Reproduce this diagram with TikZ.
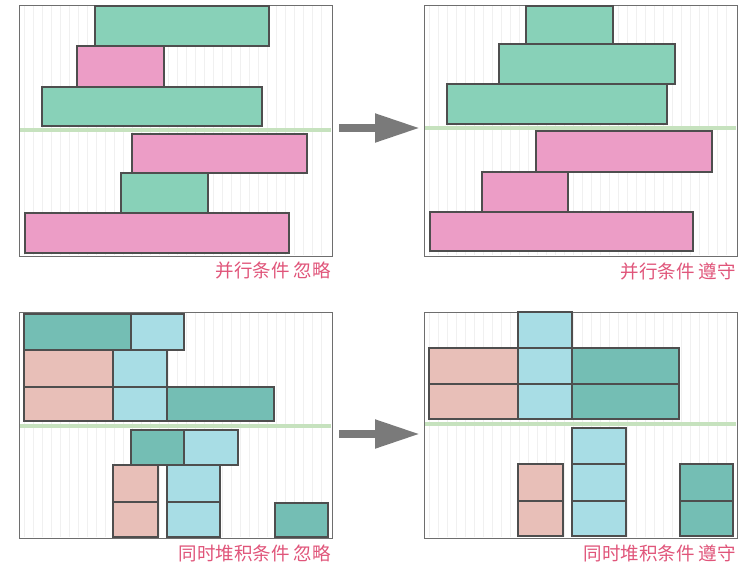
\documentclass[tikz,border=0pt]{standalone}
\usepackage{fontspec}
\setmainfont{Noto Sans CJK SC}
\usetikzlibrary{arrows.meta}
\definecolor{mint}{HTML}{88D1B8}
\definecolor{rosa}{HTML}{EC9DC6}
\definecolor{tealc}{HTML}{74BEB4}
\definecolor{lblue}{HTML}{A8DDE5}
\definecolor{salmon}{HTML}{E8BFB8}
\definecolor{edgec}{HTML}{4E4E4E}
\definecolor{framec}{HTML}{6E6E6E}
\definecolor{divc}{HTML}{C6E2BE}
\definecolor{labc}{HTML}{E0557A}
\definecolor{arrc}{HTML}{7A7A7A}
\newcommand\blk[6]{\node[#1, minimum width={#4-#2}, minimum height={#5-#3}] (#6) at ({(#2+#4)/2},{(#3+#5)/2}) {};}
\begin{document}
\begin{tikzpicture}[x=1pt,y=-1pt,
  box/.style={draw=edgec, line width=1.1pt, inner sep=0pt, outer sep=0pt},
  gbox/.style={box, fill=mint},
  pbox/.style={box, fill=rosa},
  tbox/.style={box, fill=tealc},
  bbox/.style={box, fill=lblue},
  sbox/.style={box, fill=salmon},
  frame/.style={draw=framec, line width=1pt, inner sep=0pt, outer sep=0pt},
  stripe/.style={draw=black!6, line width=0.7pt},
  divider/.style={draw=divc, line width=4pt},
  bigarrow/.style={draw=arrc, line width=8pt, -{Triangle[length=45pt,width=27pt]}},
  lab/.style={text=labc, font=\fontsize{18.5}{18.5}\selectfont, inner sep=0pt, anchor=east}]
\useasboundingbox (0,0) rectangle (740,566);
% stripes
\foreach \ox/\oy in {19/5,424/5}{
  \foreach \i in {1,...,34}{
    \draw[stripe] ({\ox+9*\i-4},{\oy+1}) -- ({\ox+9*\i-4},{\oy+250});
  }
}
\foreach \ox/\oy in {19/312,424/312}{
  \foreach \i in {1,...,34}{
    \draw[stripe] ({\ox+9*\i-4},{\oy+1}) -- ({\ox+9*\i-4},{\oy+225});
  }
}
% frames
\blk{frame}{19}{5}{332}{256}{p1}
\blk{frame}{424}{5}{737}{256}{p2}
\blk{frame}{19}{312}{332}{538}{p3}
\blk{frame}{424}{312}{737}{538}{p4}
% dividers
\draw[divider] (20,130) -- (331,130);
\draw[divider] (425,128) -- (736,128);
\draw[divider] (20,426) -- (331,426);
\draw[divider] (425,424) -- (736,424);
% panel 1
\blk{gbox}{95}{6}{269}{46}{a1}
\blk{pbox}{77}{46}{164}{87}{a2}
\blk{gbox}{42}{87}{262}{126}{a3}
\blk{pbox}{132}{134}{307}{173}{a4}
\blk{gbox}{121}{173}{208}{213}{a5}
\blk{pbox}{25}{213}{289}{253}{a6}
% panel 2
\blk{gbox}{526}{6}{613}{44}{b1}
\blk{gbox}{499}{44}{675}{84}{b2}
\blk{gbox}{447}{84}{667}{124}{b3}
\blk{pbox}{536}{131}{712}{172}{b4}
\blk{pbox}{482}{172}{568}{212}{b5}
\blk{pbox}{430}{212}{693}{251}{b6}
% panel 3
\blk{tbox}{24}{314}{131}{350}{c1}
\blk{bbox}{131}{314}{184}{350}{c2}
\blk{sbox}{24}{350}{113}{387}{c3}
\blk{bbox}{113}{350}{167}{387}{c4}
\blk{sbox}{24}{387}{113}{421}{c5}
\blk{bbox}{113}{387}{167}{421}{c6}
\blk{tbox}{167}{387}{274}{421}{c7}
\blk{tbox}{131}{430}{184}{465}{c8}
\blk{bbox}{184}{430}{238}{465}{c9}
\blk{sbox}{113}{465}{158}{502}{c10}
\blk{sbox}{113}{502}{158}{537}{c11}
\blk{bbox}{167}{465}{220}{502}{c12}
\blk{bbox}{167}{502}{220}{537}{c13}
\blk{tbox}{275}{503}{328}{537}{c14}
% panel 4
\blk{bbox}{518}{312}{572}{348}{d1}
\blk{sbox}{429}{348}{518}{384}{d2}
\blk{bbox}{518}{348}{572}{384}{d3}
\blk{tbox}{572}{348}{679}{384}{d4}
\blk{sbox}{429}{384}{518}{419}{d5}
\blk{bbox}{518}{384}{572}{419}{d6}
\blk{tbox}{572}{384}{679}{419}{d7}
\blk{bbox}{572}{428}{626}{464}{d8}
\blk{bbox}{572}{464}{626}{501}{d9}
\blk{bbox}{572}{501}{626}{536}{d10}
\blk{sbox}{518}{464}{563}{501}{d11}
\blk{sbox}{518}{501}{563}{536}{d12}
\blk{tbox}{680}{464}{733}{501}{d13}
\blk{tbox}{680}{501}{733}{536}{d14}
% arrows
\coordinate (ya) at (0,128);
\coordinate (yb) at (0,434);
\draw[bigarrow] ([xshift=7pt]p1.east |- ya) -- ([xshift=-4pt]p2.west |- ya);
\draw[bigarrow] ([xshift=7pt]p3.east |- yb) -- ([xshift=-4pt]p4.west |- yb);
% labels
\node[lab] (l1) at (331,270) {并行条件 忽略};
\node[lab] (l2) at (736,271) {并行条件 遵守};
\node[lab] (l3) at (331,553) {同时堆积条件 忽略};
\node[lab] (l4) at (736,553) {同时堆积条件 遵守};
\end{tikzpicture}
\end{document}
